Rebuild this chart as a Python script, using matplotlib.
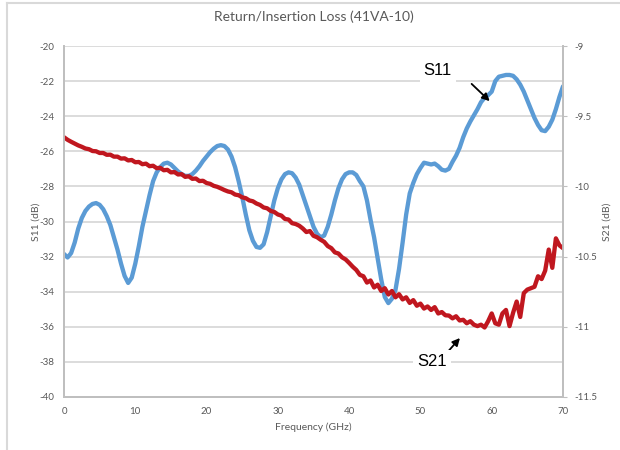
import numpy as np
import matplotlib
matplotlib.use('Agg')
import matplotlib.pyplot as plt
from matplotlib.lines import Line2D

# frecuencia (GHz), paso de 0.5
freq = np.arange(0, 70.5, 0.5)

s11 = [-31.85, -32.05, -31.8, -31.2, -30.4, -29.8, -29.4, -29.15, -29.0, -28.95,
       -29.05, -29.3, -29.7, -30.2, -30.9, -31.6, -32.4, -33.1, -33.5, -33.2,
       -32.4, -31.4, -30.3, -29.4, -28.5, -27.7, -27.2, -26.9, -26.7, -26.65,
       -26.75, -26.95, -27.15, -27.3, -27.4, -27.4, -27.3, -27.1, -26.85, -26.55,
       -26.3, -26.05, -25.85, -25.7, -25.65, -25.7, -25.9, -26.3, -26.9, -27.7,
       -28.6, -29.6, -30.5, -31.1, -31.45, -31.5, -31.3, -30.6, -29.7, -28.8,
       -28.1, -27.6, -27.3, -27.2, -27.25, -27.5, -27.9, -28.5, -29.1, -29.7,
       -30.3, -30.7, -30.9, -30.8, -30.3, -29.6, -28.8, -28.1, -27.6, -27.3,
       -27.2, -27.2, -27.35, -27.7, -28.0, -28.8, -29.9, -30.9, -32.1, -33.3,
       -34.3, -34.65, -34.4, -33.9, -32.7, -31.2, -29.6, -28.4, -27.8, -27.3,
       -26.95, -26.65, -26.7, -26.75, -26.7, -26.85, -27.05, -27.1, -27.0, -26.6,
       -26.25, -25.8, -25.2, -24.7, -24.3, -23.95, -23.6, -23.2, -22.95, -22.8,
       -22.6, -22.0, -21.75, -21.7, -21.65, -21.65, -21.7, -21.9, -22.2, -22.6,
       -23.1, -23.6, -24.1, -24.5, -24.8, -24.85, -24.6, -24.2, -23.6, -22.9,
       -22.3]

s21 = [-9.650, -9.668, -9.682, -9.695, -9.708, -9.718, -9.730, -9.735, -9.748, -9.750,
       -9.762, -9.762, -9.775, -9.774, -9.788, -9.788, -9.802, -9.800, -9.815, -9.812,
       -9.828, -9.826, -9.842, -9.838, -9.856, -9.853, -9.870, -9.868, -9.885, -9.882,
       -9.900, -9.898, -9.915, -9.913, -9.932, -9.928, -9.946, -9.944, -9.962, -9.960,
       -9.976, -9.982, -9.996, -10.003, -10.014, -10.026, -10.036, -10.042, -10.058, -10.063,
       -10.078, -10.084, -10.100, -10.106, -10.122, -10.132, -10.150, -10.156, -10.175, -10.182,
       -10.200, -10.208, -10.232, -10.236, -10.262, -10.268, -10.280, -10.300, -10.325, -10.318,
       -10.352, -10.362, -10.380, -10.395, -10.425, -10.440, -10.470, -10.478, -10.505, -10.520,
       -10.545, -10.572, -10.595, -10.630, -10.640, -10.685, -10.670, -10.720, -10.700, -10.745,
       -10.725, -10.770, -10.745, -10.790, -10.768, -10.805, -10.790, -10.830, -10.810, -10.850,
       -10.835, -10.870, -10.855, -10.880, -10.860, -10.905, -10.895, -10.918, -10.920, -10.940,
       -10.925, -10.955, -10.950, -10.975, -10.960, -10.985, -10.995, -10.985, -11.005, -10.960,
       -10.905, -10.975, -10.985, -10.905, -10.880, -10.995, -10.900, -10.820, -10.930, -10.760,
       -10.735, -10.725, -10.715, -10.640, -10.660, -10.600, -10.450, -10.580, -10.370, -10.420,
       -10.440]

xticks = [0, 10, 20, 30, 40, 50, 60, 70]
y1ticks = [-20, -22, -24, -26, -28, -30, -32, -34, -36, -38, -40]
y2ticks = [-9, -9.5, -10, -10.5, -11, -11.5]
y2labels = ['-9', '-9.5', '-10', '-10.5', '-11', '-11.5']

gris = '#595959'
plt.rcParams['font.family'] = ['Lato', 'DejaVu Sans']

fig = plt.figure(figsize=(6.2, 4.5), dpi=100)
ax1 = fig.add_axes([64/620, 1-397/450, 499/620, 351/450])
ax2 = ax1.twinx()

ax1.plot(freq, s11, color='#5b9bd5', lw=3.1, solid_capstyle='round')
ax2.plot(freq, s21, color='#c0171f', lw=3.1, solid_capstyle='round')

ax1.set_xlim(0, 70)
ax1.set_ylim(-40, -20)
ax2.set_ylim(-11.5, -9)
ax1.set_xticks(xticks)
ax1.set_xticklabels([str(t) for t in xticks])
ax1.set_yticks(y1ticks)
ax1.set_yticklabels([str(t) for t in y1ticks])
ax2.set_yticks(y2ticks)
ax2.set_yticklabels(y2labels)

ax1.grid(True, axis='y', color='#d9d9d9', lw=1.3)
ax1.set_axisbelow(True)

for ax in (ax1, ax2):
    for s in ax.spines.values():
        s.set_color('#bfbfbf')
        s.set_linewidth(1.3)
    ax.spines['top'].set_visible(False)
ax1.tick_params(axis='both', length=0, labelsize=7, labelcolor=gris, pad=7)
ax2.tick_params(axis='y', length=3, color='#bfbfbf', labelsize=7, labelcolor=gris, pad=5)

ax1.set_xlabel('Frequency (GHz)', fontsize=7.5, color=gris, labelpad=5)
ax1.set_ylabel('S11 (dB)', fontsize=7.5, color=gris, labelpad=-1)
ax2.set_ylabel('S21 (dB)', fontsize=7.5, color=gris, labelpad=4)
ax1.set_title('Return/Insertion Loss (41VA-10)', fontsize=10, color=gris, pad=18)

# etiquetas con flecha
ax1.annotate('', xy=(60.0, -23.25), xytext=(56.9, -22.05),
             arrowprops=dict(arrowstyle='-|>', color='black', lw=1.3, mutation_scale=11))
ax1.text(52.45, -21.37, 'S11', fontsize=12, family='Liberation Sans', ha='center', va='center',
         bbox=dict(facecolor='white', edgecolor='none', pad=3))
ax1.annotate('', xy=(55.8, -36.52), xytext=(53.2, -37.72),
             arrowprops=dict(arrowstyle='-|>', color='black', lw=1.3, mutation_scale=11))
ax1.text(51.6, -38.0, 'S21', fontsize=12, family='Liberation Sans', ha='center', va='center',
         bbox=dict(facecolor='white', edgecolor='none', pad=3))

# borde del area del grafico
fig.add_artist(Line2D([7/620, 7/620], [0, 1-3/450], color='#d9d9d9', lw=1.5))
fig.add_artist(Line2D([7/620, 1], [1-3/450, 1-3/450], color='#d9d9d9', lw=1.5))

fig.savefig('out.png', dpi=100)
